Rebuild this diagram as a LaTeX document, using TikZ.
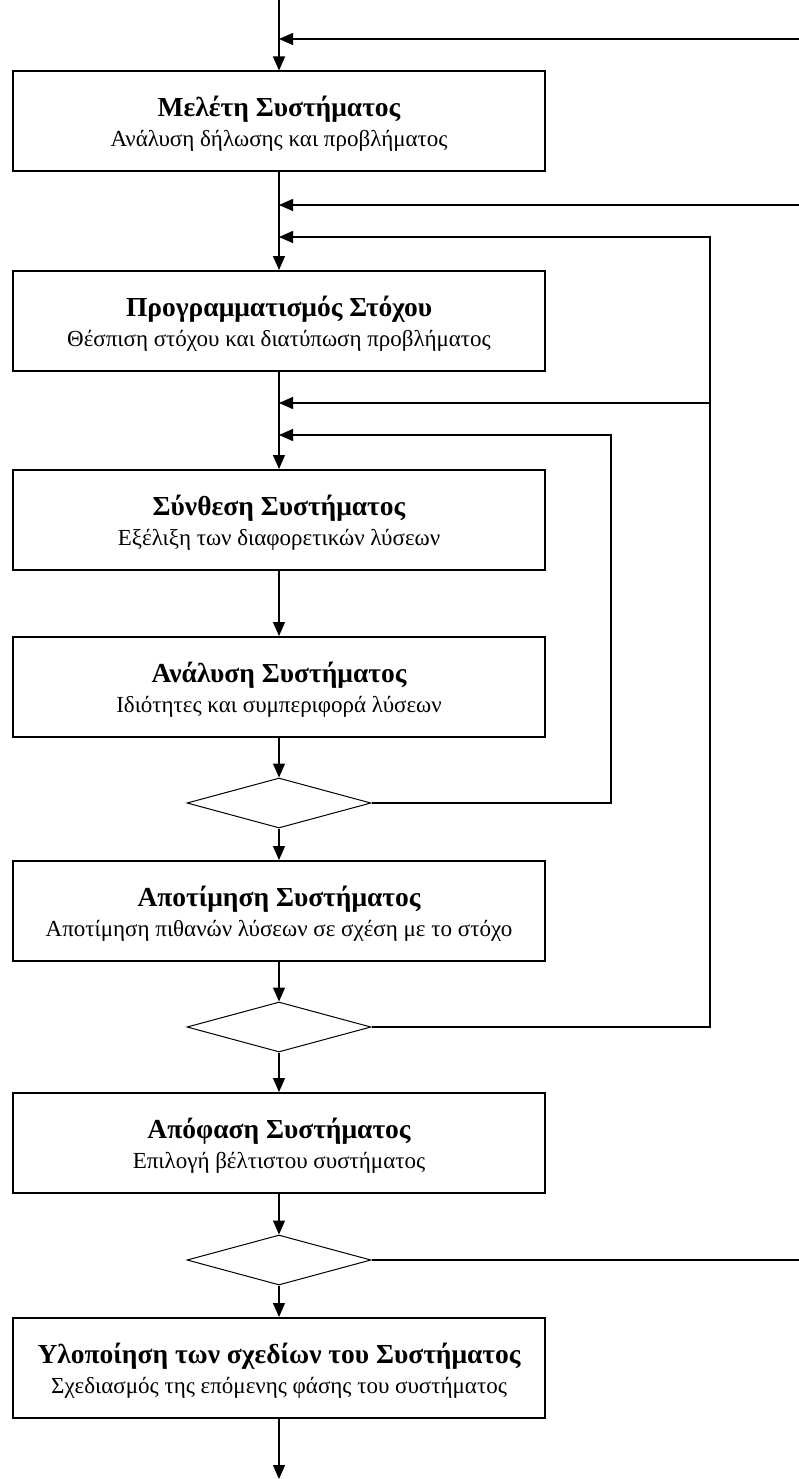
\documentclass[tikz,border=0pt]{standalone}
\usepackage{fontspec}
\setmainfont{Liberation Serif}
\usetikzlibrary{arrows.meta,shapes.geometric}

% title line (with a strut that sets the text a little lower) and subtitle line
\newcommand{\ttl}[1]{\rule{0pt}{25pt}{\fontsize{27.5}{30}\selectfont\bfseries #1}}
\newcommand{\sub}[1]{{\fontsize{23}{30}\selectfont #1}}

\tikzset{
  stepbox/.style={draw, line width=2pt, minimum width=532pt, minimum height=100pt,
    inner sep=0pt, align=center, font=\fontsize{23}{30}\selectfont},
  choice/.style={draw, shape=diamond, line width=1pt, minimum width=184pt,
    minimum height=50pt, inner sep=0pt},
  flow/.style={line width=1.3pt, -{Triangle[length=14pt,width=12pt]}},
  wire/.style={line width=1.3pt}
}

\begin{document}
\begin{tikzpicture}[x=1pt,y=-1pt]
  \useasboundingbox (0,0) rectangle (799,1479);

  % stages of the process
  \node[stepbox] (b1) at (279,121.5) {\ttl{Μελέτη Συστήματος}\\ \sub{Ανάλυση δήλωσης και προβλήματος}};
  \node[stepbox] (b2) at (279,321) {\ttl{Προγραμματισμός Στόχου}\\ \sub{Θέσπιση στόχου και διατύπωση προβλήματος}};
  \node[stepbox] (b3) at (279,520) {\ttl{Σύνθεση Συστήματος}\\ \sub{Εξέλιξη των διαφορετικών λύσεων}};
  \node[stepbox] (b4) at (279,687) {\ttl{Ανάλυση Συστήματος}\\ \sub{Ιδιότητες και συμπεριφορά λύσεων}};
  \node[choice]  (d1) at (279,803) {};
  \node[stepbox] (b5) at (279,911) {\ttl{Αποτίμηση Συστήματος}\\ \sub{Αποτίμηση πιθανών λύσεων σε σχέση με το στόχο}};
  \node[choice]  (d2) at (279,1027) {};
  \node[stepbox] (b6) at (279,1143) {\ttl{Απόφαση Συστήματος}\\ \sub{Επιλογή βέλτιστου συστήματος}};
  \node[choice]  (d3) at (279,1260) {};
  \node[stepbox] (b7) at (279,1368) {\ttl{Υλοποίηση των σχεδίων του Συστήματος}\\ \sub{Σχεδιασμός της επόμενης φάσης του συστήματος}};

  % entry and exit points, junctions on the main line
  \coordinate (start) at (279,0);
  \coordinate (finish) at (279,1479);
  \coordinate (in1) at (799,39);
  \coordinate (j1) at (279,39);
  \coordinate (in2) at (799,205);
  \coordinate (j2) at (279,205);
  \coordinate (j3) at (279,237);
  \coordinate (j4) at (279,403);
  \coordinate (j5) at (279,435);
  \coordinate (o1) at (710,237);
  \coordinate (o2) at (710,403);
  \coordinate (i1) at (611,435);
  \coordinate (out3) at (799,1260);

  % main line
  \draw[flow] (start) -- (b1.north);
  \draw[flow] (b1.south) -- (b2.north);
  \draw[flow] (b2.south) -- (b3.north);
  \draw[flow] (b3.south) -- (b4.north);
  \draw[flow] (b4.south) -- (d1.north);
  \draw[flow] (d1.south) -- (b5.north);
  \draw[flow] (b5.south) -- (d2.north);
  \draw[flow] (d2.south) -- (b6.north);
  \draw[flow] (b6.south) -- (d3.north);
  \draw[flow] (d3.south) -- (b7.north);
  \draw[flow] (b7.south) -- (finish);

  % feedback paths
  \draw[flow] (in1) -- (j1);
  \draw[flow] (in2) -- (j2);
  \draw[flow] (d2.east) -| (o1) -- (j3);
  \draw[flow] (o2) -- (j4);
  \draw[flow] (d1.east) -| (i1) -- (j5);
  \draw[wire] (d3.east) -- (out3);
\end{tikzpicture}
\end{document}
